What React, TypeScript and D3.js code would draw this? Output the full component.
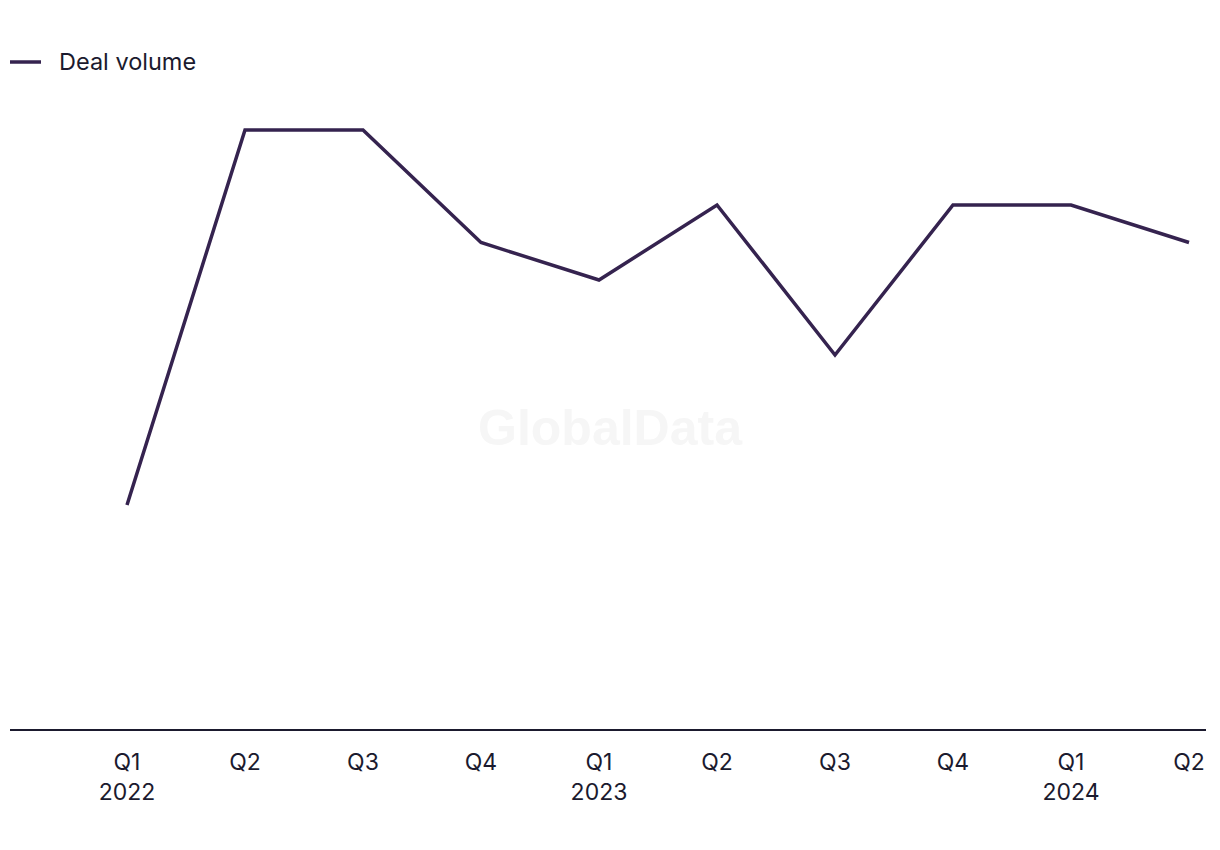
import React from "react";
import * as d3 from "d3";

const quarters = ["Q1", "Q2", "Q3", "Q4", "Q1", "Q2", "Q3", "Q4", "Q1", "Q2"];
const years = ["2022", "", "", "", "2023", "", "", "", "2024", ""];
const dealVolume = [6, 16, 16, 13, 12, 14, 10, 14, 14, 13];
const seriesName = "Deal volume";

const W = 1220;
const H = 850;
const FONT = "Inter, 'Noto Sans', sans-serif";
const LINE = "#35234f";
const TEXT = "#1b1a2e";

export default function App() {
  const keys = quarters.map((_, i) => String(i));
  const x = d3.scalePoint<string>().domain(keys).range([127, 1189]);
  const y = d3.scaleLinear().domain([0, 18]).range([730, 55]);
  const line = d3
    .line<number>()
    .x((_, i) => x(keys[i]) as number)
    .y((d) => y(d));

  return (
    <svg
      width={W}
      height={H}
      style={{ position: "absolute", left: 0, top: 0, background: "#fff" }}
      fontFamily={FONT}
    >
      <text
        x={610}
        y={445}
        textAnchor="middle"
        fontSize={50}
        fontWeight={700}
        fill="#f6f6f6"
        fontFamily="'Liberation Sans', Arial, sans-serif"
      >
        GlobalData
      </text>

      <line x1={10} x2={41} y1={62} y2={62} stroke={LINE} strokeWidth={3.5} />
      <text x={59} y={70} fontSize={23.5} fill={TEXT}>
        {seriesName}
      </text>

      <path d={line(dealVolume) || ""} fill="none" stroke={LINE} strokeWidth={3.5} strokeLinejoin="miter" />

      <line x1={10} x2={1206} y1={730} y2={730} stroke={TEXT} strokeWidth={2} />

      {quarters.map((q, i) => (
        <g key={i} transform={`translate(${x(keys[i])},0)`}>
          <text x={0} y={770} textAnchor="middle" fontSize={23} fill={TEXT}>
            {q}
          </text>
          {years[i] && (
            <text x={0} y={800} textAnchor="middle" fontSize={23} fill={TEXT}>
              {years[i]}
            </text>
          )}
        </g>
      ))}
    </svg>
  );
}
